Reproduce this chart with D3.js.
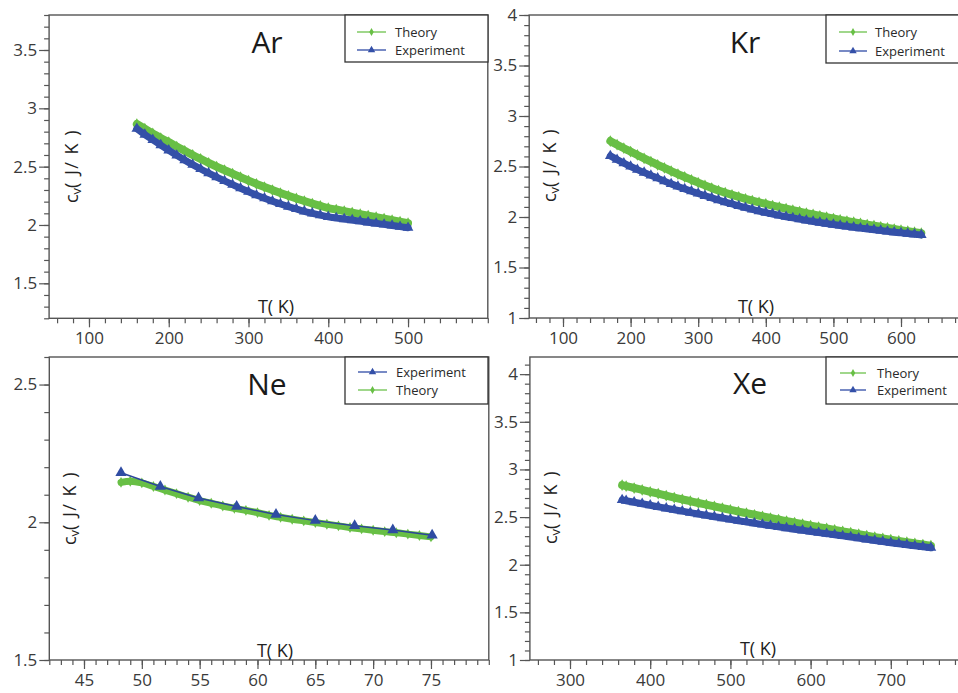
<!DOCTYPE html>
<html><head><meta charset="utf-8">
<script src="https://cdn.jsdelivr.net/npm/d3@7"></script>
<style>body{margin:0;background:#fff}svg{display:block}text{font-family:"Open Sans",sans-serif}</style>
</head><body><svg id="c" width="958" height="693"></svg>
<script>
// ---------------- DATA ----------------
const arT = [160,170,180,190,200,210,220,230,240,250,260,270,280,290,300,310,320,330,340,350,360,370,380,390,400,410,420,430,440,450,460,470,480,490,500];
const arTheory = [2.865,2.825,2.785,2.745,2.71,2.672,2.636,2.60,2.566,2.533,2.50,2.47,2.44,2.41,2.38,2.352,2.325,2.299,2.274,2.25,2.227,2.205,2.184,2.164,2.145,2.132,2.119,2.106,2.093,2.080,2.067,2.054,2.041,2.028,2.015];
const arExp = [2.825,2.775,2.73,2.685,2.64,2.597,2.556,2.517,2.48,2.445,2.411,2.378,2.346,2.315,2.285,2.256,2.229,2.204,2.18,2.158,2.137,2.117,2.10,2.084,2.07,2.06,2.051,2.042,2.033,2.023,2.014,2.005,1.996,1.986,1.977];

const krT = [170,180,190,200,210,220,230,240,250,260,270,280,290,300,310,320,330,340,350,360,370,380,390,400,410,420,430,440,450,460,470,480,490,500,510,520,530,540,550,560,570,580,590,600,610,620,630];
const krTheory = [2.752,2.716,2.681,2.648,2.614,2.581,2.549,2.517,2.486,2.455,2.425,2.396,2.368,2.34,2.313,2.287,2.262,2.24,2.219,2.199,2.18,2.162,2.145,2.129,2.113,2.097,2.082,2.067,2.053,2.039,2.025,2.012,1.998,1.985,1.972,1.96,1.948,1.936,1.925,1.914,1.903,1.892,1.881,1.87,1.86,1.85,1.84];
const krExp = [2.605,2.568,2.533,2.50,2.469,2.44,2.412,2.385,2.355,2.328,2.302,2.278,2.255,2.233,2.21,2.189,2.168,2.148,2.129,2.11,2.092,2.075,2.059,2.044,2.03,2.016,2.003,1.991,1.979,1.967,1.956,1.945,1.935,1.925,1.916,1.907,1.898,1.89,1.882,1.874,1.866,1.858,1.85,1.843,1.836,1.829,1.822];

const neExpT = [48.2,51.6,54.9,58.2,61.6,65.0,68.4,71.7,75.1];
const neExp = [2.180,2.130,2.088,2.057,2.028,2.006,1.987,1.972,1.953];
const neTheoryT = [48.2,49,50,51,52,53,54,55,56,57,58,59,60,61,62,63,64,65,66,67,68,69,70,71,72,73,74,75];
const neTheory = [2.145,2.149,2.143,2.130,2.117,2.104,2.091,2.079,2.069,2.059,2.051,2.043,2.035,2.025,2.018,2.011,2.005,1.999,1.993,1.987,1.981,1.976,1.971,1.966,1.962,1.957,1.952,1.947];

const xeT = [365,370,380,390,400,410,420,430,440,450,460,470,480,490,500,510,520,530,540,550,560,570,580,590,600,610,620,630,640,650,660,670,680,690,700,710,720,730,740,750];
const xeTheory = [2.835,2.825,2.805,2.785,2.765,2.745,2.725,2.705,2.686,2.667,2.648,2.63,2.612,2.594,2.576,2.558,2.541,2.524,2.507,2.49,2.474,2.458,2.442,2.426,2.41,2.395,2.38,2.365,2.35,2.336,2.32,2.305,2.29,2.276,2.262,2.249,2.236,2.224,2.212,2.20];
const xeExp = [2.68,2.672,2.656,2.64,2.624,2.608,2.592,2.577,2.562,2.547,2.532,2.518,2.504,2.49,2.476,2.462,2.449,2.436,2.423,2.41,2.397,2.385,2.373,2.361,2.349,2.337,2.326,2.315,2.303,2.291,2.279,2.267,2.255,2.243,2.231,2.22,2.209,2.198,2.188,2.178];

const arXTicks = [100,200,300,400,500];
const arYTicks = [1.5,2,2.5,3,3.5];
const krXTicks = [100,200,300,400,500,600];
const krYTicks = [1,1.5,2,2.5,3,3.5,4];
const neXTicks = [45,50,55,60,65,70,75];
const neYTicks = [1.5,2,2.5];
const xeXTicks = [300,400,500,600,700];
const xeYTicks = [1,1.5,2,2.5,3,3.5,4];

const arLegend = ["Theory","Experiment"];
const krLegend = ["Theory","Experiment"];
const neLegend = ["Experiment","Theory"];
const xeLegend = ["Theory","Experiment"];

// ---------------- STYLE / LAYOUT ----------------
const GREEN = "#68bf45", BLUE = "#3450a8", LGREEN = "#78c65a", LBLUE = "#3e58ad";
const panels = [
  {name:"Ar", xd:[50,600], yd:[1.2,3.8], xr:[49.1,487.8], yr:[318.3,15],
   xTicks:arXTicks, yTicks:arYTicks, xMinor:20, yMinor:0.1, legend:arLegend,
   theory:{T:arT, v:arTheory}, exp:{T:arT, v:arExp}, dense:true,
   lg:{x0:345,x1:488,y0:15,y1:62,rows:[32,50],lx0:357,lx1:386,tx:395},
   title:[267,53], xlab:[276,313], ylab:[72,166]},
  {name:"Kr", xd:[50,700], yd:[1,4], xr:[529.2,968.6], yr:[318,15],
   xTicks:krXTicks, yTicks:krYTicks, xMinor:20, yMinor:0.1, legend:krLegend,
   theory:{T:krT, v:krTheory}, exp:{T:krT, v:krExp}, dense:true,
   lg:{x0:826,x1:980,y0:15,y1:63,rows:[32,51],lx0:839,lx1:867,tx:875},
   title:[745,53], xlab:[756,313], ylab:[550,165]},
  {name:"Ne", xd:[42,80], yd:[1.5,2.6], xr:[49.3,488.8], yr:[660,357],
   xTicks:neXTicks, yTicks:neYTicks, xMinor:1, yMinor:0.1, legend:neLegend,
   theory:{T:neTheoryT, v:neTheory}, exp:{T:neExpT, v:neExp}, dense:false,
   lg:{x0:345,x1:488,y0:357,y1:404,rows:[372,390],lx0:358,lx1:387,tx:396},
   title:[267,395], xlab:[275,657], ylab:[70,508]},
  {name:"Xe", xd:[250,800], yd:[1,4.18], xr:[529.9,971], yr:[660,357],
   xTicks:xeXTicks, yTicks:xeYTicks, xMinor:20, yMinor:0.1, legend:xeLegend,
   theory:{T:xeT, v:xeTheory}, exp:{T:xeT, v:xeExp}, dense:true,
   lg:{x0:826,x1:980,y0:357,y1:404,rows:[373,390],lx0:840,lx1:866,tx:877},
   title:[750,394], xlab:[758,655], ylab:[551,507]}
];

const svg = d3.select("#c");
svg.append("rect").attr("width",958).attr("height",693).attr("fill","#fff");

const diamond = s => d3.symbol(d3.symbolDiamond, s)();
const tri = s => d3.symbol(d3.symbolTriangle, s)();

function minorVals(domain, step){
  const out = [];
  const n0 = Math.ceil(domain[0]/step - 1e-9), n1 = Math.floor(domain[1]/step + 1e-9);
  for (let i=n0;i<=n1;i++) out.push(+(i*step).toFixed(4));
  return out;
}

panels.forEach(p => {
  const x = d3.scaleLinear().domain(p.xd).range(p.xr);
  const y = d3.scaleLinear().domain(p.yd).range(p.yr);
  const g = svg.append("g");
  const L = p.xr[0], R = p.xr[1], T = p.yr[1], B = p.yr[0];

  const styleAxis = sel => {
    sel.select(".domain").remove();
    sel.selectAll("line").attr("stroke","#555").attr("stroke-width",1.2);
    sel.selectAll("text").attr("fill","#3a3a3a").style("font-size","17px").style("font-family","'Open Sans',sans-serif");
  };
  g.append("g").attr("transform",`translate(0,${B})`)
    .call(d3.axisBottom(x).tickValues(minorVals(p.xd,p.xMinor)).tickSize(5).tickFormat("")).call(styleAxis);
  g.append("g").attr("transform",`translate(0,${B})`)
    .call(d3.axisBottom(x).tickValues(p.xTicks).tickSize(9).tickPadding(5).tickFormat(d=>String(d))).call(styleAxis);
  g.append("g").attr("transform",`translate(${L},0)`)
    .call(d3.axisLeft(y).tickValues(minorVals(p.yd,p.yMinor)).tickSize(5).tickFormat("")).call(styleAxis);
  g.append("g").attr("transform",`translate(${L},0)`)
    .call(d3.axisLeft(y).tickValues(p.yTicks).tickSize(10).tickPadding(2).tickFormat(d=>String(d))).call(styleAxis);

  g.append("rect").attr("x",L).attr("y",T).attr("width",R-L).attr("height",B-T)
    .attr("fill","none").attr("stroke","#555").attr("stroke-width",1.4);

  const th = p.theory.T.map((t,i)=>[t,p.theory.v[i]]);
  const ex = p.exp.T.map((t,i)=>[t,p.exp.v[i]]);
  const line = d3.line().x(d=>x(d[0])).y(d=>y(d[1])).curve(d3.curveMonotoneX);

  if (p.dense) {
    g.append("path").attr("d",line(th)).attr("fill","none").attr("stroke",GREEN).attr("stroke-width",8).attr("stroke-linecap","round");
    g.selectAll(null).data(th).enter().append("path")
      .attr("d",diamond(40)).attr("transform",d=>`translate(${x(d[0])},${y(d[1])})`).attr("fill",GREEN);
    g.append("path").attr("d",line(ex)).attr("fill","none").attr("stroke",BLUE).attr("stroke-width",7).attr("stroke-linecap","round");
    g.selectAll(null).data(ex).enter().append("path")
      .attr("d",tri(50)).attr("transform",d=>`translate(${x(d[0])},${y(d[1])})`).attr("fill",BLUE);
  } else {
    g.append("path").attr("d",line(th)).attr("fill","none").attr("stroke",GREEN).attr("stroke-width",7).attr("stroke-linecap","round");
    g.selectAll(null).data(th).enter().append("path")
      .attr("d",diamond(34)).attr("transform",d=>`translate(${x(d[0])},${y(d[1])})`).attr("fill",GREEN);
    g.append("path").attr("d",d3.line().x(d=>x(d[0])).y(d=>y(d[1]))(ex)).attr("fill","none").attr("stroke","#2c4699").attr("stroke-width",1.5);
    g.selectAll(null).data(ex).enter().append("path")
      .attr("d",tri(55)).attr("transform",d=>`translate(${x(d[0])},${y(d[1])})`).attr("fill","#2f4ca3");
  }

  g.append("text").attr("x",p.title[0]).attr("y",p.title[1]).attr("text-anchor","middle")
    .style("font-size","30px").attr("fill","#1a1a1a").text(p.name);
  g.append("text").attr("x",p.xlab[0]).attr("y",p.xlab[1]).attr("text-anchor","middle")
    .style("font-size","18px").attr("fill","#222").text("T( K)");
  const yl = g.append("text").attr("transform",`translate(${p.ylab[0]},${p.ylab[1]}) rotate(-90)`)
    .attr("text-anchor","middle").attr("dy","0.35em").style("font-size","18px").attr("fill","#222");
  yl.append("tspan").text("c");
  yl.append("tspan").attr("dy","3").style("font-size","13px").text("v");
  yl.append("tspan").attr("dy","-3").style("letter-spacing","1.5px").text("( J/ K )");

  const lg = p.lg;
  g.append("rect").attr("x",lg.x0).attr("y",lg.y0).attr("width",lg.x1-lg.x0).attr("height",lg.y1-lg.y0)
    .attr("fill","#fff").attr("stroke","#333").attr("stroke-width",1.3);
  p.legend.forEach((name,i) => {
    const yy = lg.rows[i];
    const isT = name === "Theory";
    const col = isT ? LGREEN : LBLUE;
    g.append("line").attr("x1",lg.lx0).attr("x2",lg.lx1).attr("y1",yy).attr("y2",yy).attr("stroke",col).attr("stroke-width",1.4);
    g.append("path").attr("d", isT ? diamond(18) : tri(24))
      .attr("transform",`translate(${(lg.lx0+lg.lx1)/2},${yy})`).attr("fill", isT ? GREEN : BLUE);
    g.append("text").attr("x",lg.tx).attr("y",yy).attr("dy","0.35em").style("font-size","13px").attr("fill","#2a2a2a").text(name);
  });
});
</script>
</body></html>
